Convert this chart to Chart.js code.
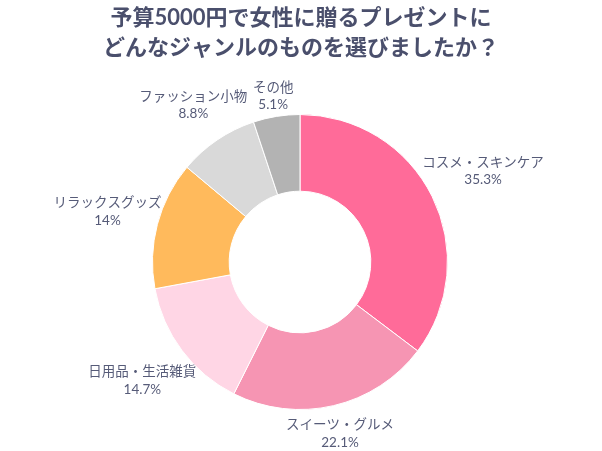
<!DOCTYPE html>
<html>
<head>
    <meta charset="UTF-8">
    <title>Present genre</title>
    <script src="https://cdn.jsdelivr.net/npm/chart.js@4.4.1/dist/chart.umd.min.js"></script>
    <style>
        html, body { margin: 0; padding: 0; background: #fff; }
        #wrap { width: 602px; height: 451px; }
    </style>
</head>
<body>
    <div id="wrap"><canvas id="donut"></canvas></div>

    <script>
        const labels = ["コスメ・スキンケア", "スイーツ・グルメ", "日用品・生活雑貨", "リラックスグッズ", "ファッション小物", "その他"];
        const values = [35.3, 22.1, 14.7, 14, 8.8, 5.1];
        const colors = ["#FF6B99", "#F695B3", "#FFD6E5", "#FFBA5C", "#D9D9D9", "#B3B3B3"];
        const titleLines = ["予算5000円で女性に贈るプレゼントに", "どんなジャンルのものを選びましたか？"];

        const FONT = "'Lato', 'Noto Sans CJK JP', sans-serif";
        const TEXT = "#565b78";

        // title drawn by hand so it is not squeezed to the chart width
        const bigTitle = {
            id: "bigTitle",
            afterDraw(chart) {
                const ctx = chart.ctx;
                ctx.save();
                ctx.font = "bold 22px " + FONT;
                ctx.fillStyle = "#4a4f6c";
                ctx.textAlign = "center";
                ctx.textBaseline = "middle";
                titleLines.forEach((t, i) => ctx.fillText(t, chart.width / 2, 18 + i * 30));
                ctx.restore();
            }
        };

        // labels outside each slice, pushed out by their own size
        const outsideLabels = {
            id: "outsideLabels",
            afterDatasetsDraw(chart) {
                const ctx = chart.ctx;
                const meta = chart.getDatasetMeta(0);
                ctx.save();
                ctx.font = "13.5px " + FONT;
                ctx.fillStyle = TEXT;
                ctx.textAlign = "center";
                ctx.textBaseline = "middle";
                meta.data.forEach((arc, i) => {
                    const p = arc.getProps(["x", "y", "startAngle", "endAngle", "outerRadius"], true);
                    const a = (p.startAngle + p.endAngle) / 2;
                    const pct = values[i] + "%";
                    const w = Math.max(ctx.measureText(labels[i]).width, ctx.measureText(pct).width);
                    const d = p.outerRadius + 0.9 * Math.abs(Math.cos(a)) * w / 2 + 18 * Math.abs(Math.sin(a));
                    const cx = p.x + Math.cos(a) * d;
                    const cy = p.y + Math.sin(a) * d;
                    ctx.fillText(labels[i], cx, cy - 8.5);
                    ctx.fillText(pct, cx, cy + 9);
                });
                ctx.restore();
            }
        };

        new Chart(document.getElementById("donut"), {
            type: "doughnut",
            data: {
                labels: labels,
                datasets: [{
                    data: values,
                    backgroundColor: colors,
                    borderColor: "#ffffff",
                    borderWidth: 1
                }]
            },
            options: {
                responsive: true,
                maintainAspectRatio: false,
                animation: false,
                cutout: "48%",
                layout: { padding: { left: 152, right: 154, top: 114, bottom: 41 } },
                plugins: {
                    legend: { display: false },
                    tooltip: { enabled: false },
                    title: { display: false }
                }
            },
            plugins: [outsideLabels, bigTitle]
        });
    </script>
</body>
</html>
